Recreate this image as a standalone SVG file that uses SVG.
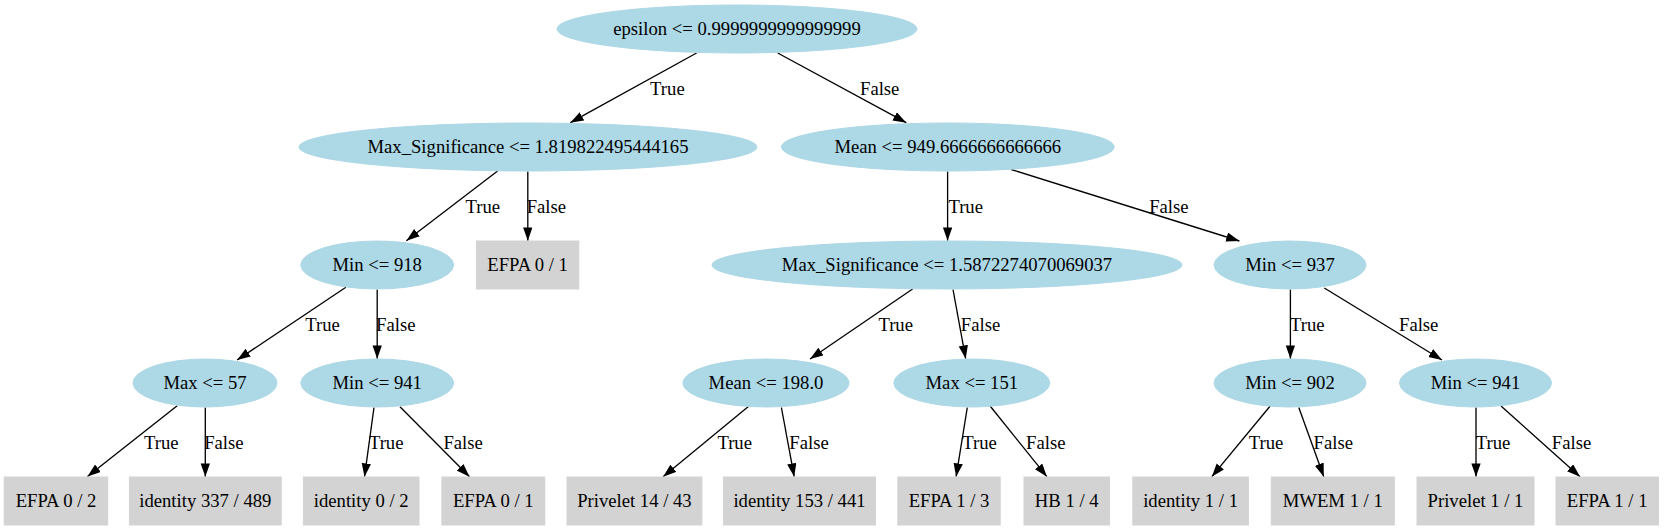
<svg xmlns="http://www.w3.org/2000/svg" width="1664" height="531" viewBox="0 0 1664 531" font-family="'Liberation Serif', 'Times New Roman', Times, serif">
<style>
text{font-family:'Liberation Serif','Times New Roman',Times,serif;font-size:18.67px;fill:#000;text-anchor:middle}
.d ellipse{fill:#add8e6;stroke:#add8e6}
.l rect{fill:#d3d3d3;stroke:#d3d3d3}
#edges line{stroke:#000;stroke-width:1.33;marker-end:url(#ah)}
</style>
<defs>
<marker id="ah" markerUnits="userSpaceOnUse" markerWidth="14" markerHeight="10" refX="13.3" refY="4.67" orient="auto">
<path d="M0,0 L13.3,4.67 L0,9.33 z" fill="#000"/>
</marker>
</defs>
<rect width="1664" height="531" fill="#fff"/>
<g id="edges">
<line x1="696.6" y1="53" x2="570.3" y2="122.7"/><text x="667.4" y="95">True</text>
<line x1="777.7" y1="53" x2="906.3" y2="122.7"/><text x="879.7" y="95">False</text>
<line x1="497.6" y1="171" x2="406.4" y2="240.7"/><text x="482.8" y="213">True</text>
<line x1="527.8" y1="171.5" x2="527.8" y2="240.7"/><text x="546.4" y="213">False</text>
<line x1="947.6" y1="171.5" x2="947.6" y2="240.7"/><text x="965.7" y="213">True</text>
<line x1="1011.3" y1="169.5" x2="1239.4" y2="241"/><text x="1168.9" y="213">False</text>
<line x1="345.9" y1="287.3" x2="237.1" y2="360"/><text x="322.5" y="331">True</text>
<line x1="377.2" y1="289.5" x2="377.2" y2="358.7"/><text x="395.8" y="331">False</text>
<line x1="912.6" y1="289" x2="810" y2="359"/><text x="895.7" y="331">True</text>
<line x1="953" y1="289.5" x2="965.7" y2="358.7"/><text x="980.5" y="331">False</text>
<line x1="1290.4" y1="289.5" x2="1290.4" y2="358.7"/><text x="1307.3" y="331">True</text>
<line x1="1324.3" y1="288" x2="1442" y2="360"/><text x="1418.7" y="331">False</text>
<line x1="177.2" y1="405.7" x2="87.5" y2="476.5"/><text x="161.3" y="449">True</text>
<line x1="205.3" y1="407.5" x2="205.3" y2="476.7"/><text x="223.9" y="449">False</text>
<line x1="374" y1="407.5" x2="364.5" y2="476.7"/><text x="386.2" y="449">True</text>
<line x1="400" y1="406.7" x2="469.5" y2="476.7"/><text x="463.1" y="449">False</text>
<line x1="749" y1="406" x2="663.1" y2="476.7"/><text x="734.7" y="449">True</text>
<line x1="781.4" y1="407.5" x2="794.2" y2="476.7"/><text x="809" y="449">False</text>
<line x1="967.3" y1="407.5" x2="956.1" y2="476.7"/><text x="979.5" y="449">True</text>
<line x1="990.1" y1="406" x2="1046.9" y2="476.7"/><text x="1045.8" y="449">False</text>
<line x1="1270.2" y1="406" x2="1211.8" y2="476.7"/><text x="1266" y="449">True</text>
<line x1="1298.8" y1="407.5" x2="1323.8" y2="476.7"/><text x="1333.3" y="449">False</text>
<line x1="1476" y1="407.5" x2="1476" y2="476.7"/><text x="1493" y="449">True</text>
<line x1="1501" y1="406" x2="1580" y2="476.7"/><text x="1571.5" y="449">False</text>
</g>
<g id="n0" class="d"><ellipse cx="737" cy="29" rx="180" ry="24"/><text x="737" y="35">epsilon &lt;= 0.9999999999999999</text></g>
<g id="n1" class="d"><ellipse cx="528" cy="147" rx="229" ry="24"/><text x="528" y="153">Max_Significance &lt;= 1.819822495444165</text></g>
<g id="n2" class="d"><ellipse cx="947.8" cy="147" rx="166.4" ry="24"/><text x="947.8" y="153">Mean &lt;= 949.6666666666666</text></g>
<g id="n3" class="d"><ellipse cx="377.2" cy="265" rx="76.4" ry="24"/><text x="377.2" y="271">Min &lt;= 918</text></g>
<g id="n4" class="l"><rect x="476.4" y="241" width="102.4" height="48"/><text x="527.6" y="271">EFPA 0 / 1</text></g>
<g id="n5" class="d"><ellipse cx="947" cy="265" rx="235" ry="24"/><text x="947" y="271">Max_Significance &lt;= 1.5872274070069037</text></g>
<g id="n6" class="d"><ellipse cx="1290" cy="265" rx="76" ry="24"/><text x="1290" y="271">Min &lt;= 937</text></g>
<g id="n7" class="d"><ellipse cx="205" cy="383" rx="72" ry="24"/><text x="205" y="389">Max &lt;= 57</text></g>
<g id="n8" class="d"><ellipse cx="377.2" cy="383" rx="76.4" ry="24"/><text x="377.2" y="389">Min &lt;= 941</text></g>
<g id="n9" class="d"><ellipse cx="766" cy="383" rx="83" ry="24"/><text x="766" y="389">Mean &lt;= 198.0</text></g>
<g id="n10" class="d"><ellipse cx="971.8" cy="383" rx="78" ry="24"/><text x="971.8" y="389">Max &lt;= 151</text></g>
<g id="n11" class="d"><ellipse cx="1290" cy="383" rx="76" ry="24"/><text x="1290" y="389">Min &lt;= 902</text></g>
<g id="n12" class="d"><ellipse cx="1475.5" cy="383" rx="76" ry="24"/><text x="1475.5" y="389">Min &lt;= 941</text></g>
<g id="n13" class="l"><rect x="4.2" y="477" width="103.5" height="48"/><text x="56" y="507">EFPA 0 / 2</text></g>
<g id="n14" class="l"><rect x="129.4" y="477" width="151.8" height="48"/><text x="205.3" y="507">identity 337 / 489</text></g>
<g id="n15" class="l"><rect x="303.4" y="477" width="115.6" height="48"/><text x="361.2" y="507">identity 0 / 2</text></g>
<g id="n16" class="l"><rect x="441.9" y="477" width="102.9" height="48"/><text x="493.3" y="507">EFPA 0 / 1</text></g>
<g id="n17" class="l"><rect x="567" y="477" width="134.9" height="48"/><text x="634.4" y="507">Privelet 14 / 43</text></g>
<g id="n18" class="l"><rect x="723.6" y="477" width="151.9" height="48"/><text x="799.5" y="507">identity 153 / 441</text></g>
<g id="n19" class="l"><rect x="897.8" y="477" width="102.4" height="48"/><text x="949" y="507">EFPA 1 / 3</text></g>
<g id="n20" class="l"><rect x="1024" y="477" width="85.5" height="48"/><text x="1066.7" y="507">HB 1 / 4</text></g>
<g id="n21" class="l"><rect x="1132.8" y="477" width="115.6" height="48"/><text x="1190.6" y="507">identity 1 / 1</text></g>
<g id="n22" class="l"><rect x="1271.3" y="477" width="123" height="48"/><text x="1332.8" y="507">MWEM 1 / 1</text></g>
<g id="n23" class="l"><rect x="1417" y="477" width="117" height="48"/><text x="1475.5" y="507">Privelet 1 / 1</text></g>
<g id="n24" class="l"><rect x="1556" y="477" width="102.5" height="48"/><text x="1607.2" y="507">EFPA 1 / 1</text></g>
</svg>
